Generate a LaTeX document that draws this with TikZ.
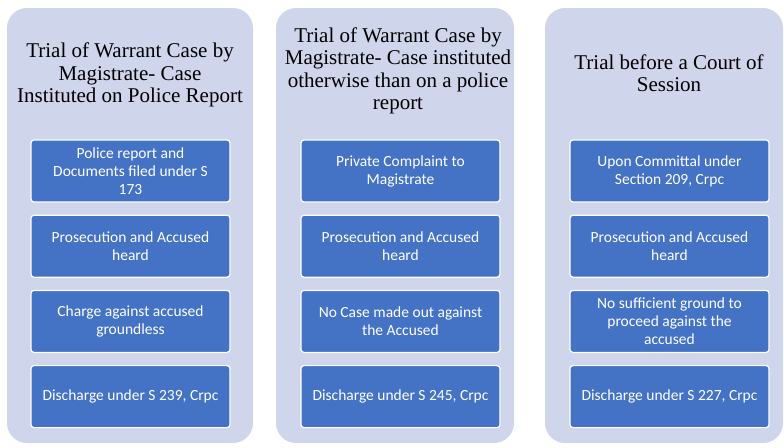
\documentclass[tikz,border=0pt]{standalone}
\usepackage{fontspec}
\setmainfont{Liberation Serif}
\newfontfamily\boxfont{Carlito}
\usetikzlibrary{positioning}

\definecolor{panelfill}{RGB}{207,213,234}
\definecolor{stepfill}{RGB}{68,114,196}

\tikzset{
    panel/.style={fill=panelfill, rounded corners=20pt, minimum height=435pt, inner sep=0pt},
    paneltitle/.style={align=center, font=\fontsize{21}{22.5}\selectfont},
    stepbox/.style={fill=stepfill, draw=white, line width=1.2pt, rounded corners=3pt,
        minimum width=199pt, minimum height=62pt, align=center,
        text=white, font=\boxfont\fontsize{15.5}{18}\selectfont, inner sep=0pt}
}

\begin{document}
\begin{tikzpicture}[x=1pt, y=-1pt]

    \useasboundingbox (0, 0) rectangle (784, 447);

    % panels
    \node[panel, minimum width=246pt] (P1) at (130, 225.5) {};
    \node[panel, minimum width=238pt] (P2) at (395, 225.5) {};
    \node[panel, minimum width=238pt] (P3) at (664, 225.5) {};

    % titles
    \node[paneltitle] (T1) at (130, 75) {Trial of Warrant Case by\\Magistrate- Case\\Instituted on Police Report};
    \node[paneltitle] (T2) at (398, 71) {Trial of Warrant Case by\\Magistrate- Case instituted\\otherwise than on a police\\report};
    \node[paneltitle] (T3) at (669, 73) {Trial before a Court of\\Session};

    % first column
    \node[stepbox] (A1) at (130.5, 171) {Police report and\\Documents filed under S\\173};
    \node[stepbox, below=12pt of A1] (A2) {Prosecution and Accused\\heard};
    \node[stepbox, below=12pt of A2] (A3) {Charge against accused\\groundless};
    \node[stepbox, below=12pt of A3] (A4) {Discharge under S 239, Crpc};

    % second column
    \node[stepbox] (B1) at (400.5, 171) {Private Complaint to\\Magistrate};
    \node[stepbox, below=12pt of B1] (B2) {Prosecution and Accused\\heard};
    \node[stepbox, below=12pt of B2] (B3) {No Case made out against\\the Accused};
    \node[stepbox, below=12pt of B3] (B4) {Discharge under S 245, Crpc};

    % third column
    \node[stepbox] (C1) at (669.5, 171) {Upon Committal under\\Section 209, Crpc};
    \node[stepbox, below=12pt of C1] (C2) {Prosecution and Accused\\heard};
    \node[stepbox, below=12pt of C2] (C3) {No sufficient ground to\\proceed against the\\accused};
    \node[stepbox, below=12pt of C3] (C4) {Discharge under S 227, Crpc};

\end{tikzpicture}
\end{document}
